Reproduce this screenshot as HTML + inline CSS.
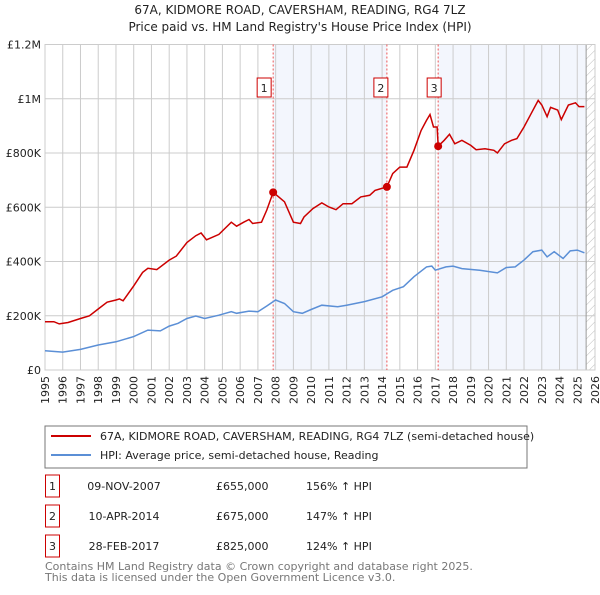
<!DOCTYPE html>
<html><head><meta charset="utf-8"><style>
body{margin:0;background:#fff;font-family:"Liberation Sans","DejaVu Sans",sans-serif;}
svg text{font-family:"DejaVu Sans","Liberation Sans",sans-serif;}
</style></head><body>
<svg id="c" width="600" height="590" xmlns="http://www.w3.org/2000/svg">
<defs><pattern id="hatch" width="6" height="6" patternUnits="userSpaceOnUse" patternTransform="rotate(45)"><line x1="0" y1="0" x2="0" y2="6" stroke="#bbb" stroke-width="1"/></pattern></defs>
<text x="300" y="14" text-anchor="middle" font-size="12" fill="#222">67A, KIDMORE ROAD, CAVERSHAM, READING, RG4 7LZ</text>
<text x="300" y="31" text-anchor="middle" font-size="12" fill="#222">Price paid vs. HM Land Registry's House Price Index (HPI)</text>
<g id="plot"></g>
<rect x="45" y="426" width="482" height="42" fill="#fff" stroke="#777"/>
<line x1="51" y1="436" x2="91" y2="436" stroke="#cc0000" stroke-width="2"/>
<text x="100" y="440" font-size="11" fill="#222">67A, KIDMORE ROAD, CAVERSHAM, READING, RG4 7LZ (semi-detached house)</text>
<line x1="51" y1="455" x2="91" y2="455" stroke="#5b8fd6" stroke-width="2"/>
<text x="100" y="459" font-size="11" fill="#222">HPI: Average price, semi-detached house, Reading</text>
<g id="table" font-size="11" fill="#222"></g>
<text x="45" y="570" font-size="11" fill="#777">Contains HM Land Registry data © Crown copyright and database right 2025.</text>
<text x="45" y="581" font-size="11" fill="#777">This data is licensed under the Open Government Licence v3.0.</text>
</svg>
<script>
const redYears=[1995,1995.5,1995.8,1996.3,1997,1997.5,1998,1998.5,1999,1999.2,1999.4,2000,2000.5,2000.8,2001.3,2002,2002.4,2003,2003.5,2003.8,2004.1,2004.8,2005.5,2005.8,2006.2,2006.5,2006.7,2007.2,2007.5,2007.86,2008.5,2009,2009.4,2009.6,2010.1,2010.6,2011,2011.4,2011.8,2012.3,2012.8,2013.3,2013.6,2014.27,2014.6,2015,2015.4,2015.8,2016.2,2016.5,2016.7,2016.9,2017.1,2017.16,2017.5,2017.8,2018.1,2018.5,2019,2019.3,2019.8,2020.3,2020.5,2020.9,2021.3,2021.6,2022,2022.4,2022.8,2023,2023.3,2023.5,2023.9,2024.1,2024.5,2024.9,2025.1,2025.4];
const redValues=[178,178,170,175,190,200,225,250,258,262,255,310,360,375,370,405,420,470,495,505,480,500,545,530,545,555,540,545,590,655,620,545,540,564,595,616,601,591,613,613,638,644,662,675,724,748,748,810,883,920,942,896,896,825,847,869,834,847,828,812,816,810,800,834,847,853,896,945,994,977,934,968,958,923,977,985,971,971];
const hpiYears=[1995,1996,1997,1998,1999,2000,2000.8,2001.5,2002,2002.5,2003,2003.5,2004,2004.8,2005.5,2005.8,2006.5,2007,2007.5,2008,2008.5,2009,2009.5,2010,2010.6,2011.5,2012,2013,2014,2014.6,2015.2,2015.8,2016.5,2016.8,2017,2017.6,2018,2018.5,2019.5,2020.5,2021,2021.5,2022,2022.5,2023,2023.3,2023.7,2024.2,2024.6,2025,2025.4];
const hpiValues=[71,66,76,92,104,123,147,144,162,172,190,199,190,202,215,209,217,215,236,258,245,215,209,223,239,233,239,252,270,294,307,344,380,383,368,380,383,374,368,358,378,380,405,436,442,417,436,411,439,442,432];
const saleLabels=["1","2","3"];
const saleYears=[2007.86,2014.27,2017.16];
const saleValues=[655,675,825];
const saleDates=["09-NOV-2007","10-APR-2014","28-FEB-2017"];
const salePrices=["£655,000","£675,000","£825,000"];
const salePct=["156% \u2191 HPI","147% \u2191 HPI","124% \u2191 HPI"];
const yTicks=[0,200,400,600,800,1000,1200];
const yTickLabels=["£0","£200K","£400K","£600K","£800K","£1M","£1.2M"];
const xTicks=[1995,1996,1997,1998,1999,2000,2001,2002,2003,2004,2005,2006,2007,2008,2009,2010,2011,2012,2013,2014,2015,2016,2017,2018,2019,2020,2021,2022,2023,2024,2025,2026];

const L=45,R=595,T=44.5,B=370,x0=1995,x1=2026,yMax=1200;
const X=v=>L+(v-x0)/(x1-x0)*(R-L);
const Y=v=>B-v/yMax*(B-T);
const NS="http://www.w3.org/2000/svg";
const g=document.getElementById('plot');
function mk(t,a,p){const e=document.createElementNS(NS,t);for(const k in a)e.setAttribute(k,a[k]);(p||g).appendChild(e);return e;}
let e;
e=mk('rect',{x:X(saleYears[0]),y:T,width:X(saleYears[1])-X(saleYears[0]),height:B-T,fill:'#eef2fc',opacity:0.7});


e=mk('rect',{x:X(saleYears[2]),y:T,width:X(2025.5)-X(saleYears[2]),height:B-T,fill:'#eef2fc',opacity:0.7});


e=mk('rect',{x:X(2025.5),y:T,width:R-X(2025.5),height:B-T,fill:'url(#hatch)'});


xTicks.forEach(t=>{e=mk('line',{x1:X(t),x2:X(t),y1:T,y2:B,stroke:'#ccc','stroke-width':1});


e=mk('text',{x:0,y:0,'font-size':11,fill:'#222','text-anchor':'end',transform:`translate(${X(t)+4},${B+6}) rotate(-90)`});e.textContent=t;

});
yTicks.forEach((t,i)=>{e=mk('line',{x1:L,x2:R,y1:Y(t),y2:Y(t),stroke:'#ccc','stroke-width':1});


e=mk('text',{x:L-4,y:Y(t)+4,'font-size':11,fill:'#222','text-anchor':'end'});e.textContent=yTickLabels[i];

});
e=mk('line',{x1:X(2025.5),x2:X(2025.5),y1:T,y2:B,stroke:'#999','stroke-width':1});


e=mk('rect',{x:L,y:T,width:R-L,height:B-T,fill:'none',stroke:'#ccc'});


saleYears.forEach((s,i)=>{e=mk('line',{x1:X(s),x2:X(s),y1:T,y2:B,stroke:'#ee5555','stroke-width':1,'stroke-dasharray':'2,2'});

});
const pts=(xs,vs)=>xs.map((v,i)=>X(v).toFixed(1)+','+Y(vs[i]).toFixed(1)).join(' ');
e=mk('polyline',{points:pts(hpiYears,hpiValues),fill:'none',stroke:'#5b8fd6','stroke-width':1.5});


e=mk('polyline',{points:pts(redYears,redValues),fill:'none',stroke:'#cc0000','stroke-width':1.5});


saleYears.forEach((s,i)=>{e=mk('circle',{cx:X(s),cy:Y(saleValues[i]),r:4,fill:'#cc0000'});


const bx=X(s)-(i==0?16:i==1?13:11);
e=mk('rect',{x:bx,y:78,width:14,height:19,fill:'#fff',stroke:'#cc0000'});


e=mk('text',{x:bx+7,y:92,'font-size':11,fill:'#222','text-anchor':'middle'});e.textContent=saleLabels[i];

});
const tb=document.getElementById('table');
saleLabels.forEach((l,i)=>{const y=485+i*30;
e=mk('rect',{x:45.5,y:y-10,width:14,height:22,fill:'#fff',stroke:'#cc0000'},tb);


e=mk('text',{x:52.5,y:y+5,'text-anchor':'middle'},tb);e.textContent=l;


e=mk('text',{x:124,y:y+5,'text-anchor':'middle'},tb);e.textContent=saleDates[i];


e=mk('text',{x:216,y:y+5},tb);e.textContent=salePrices[i];


e=mk('text',{x:306,y:y+5},tb);e.textContent=salePct[i];

});
</script>
</body></html>
